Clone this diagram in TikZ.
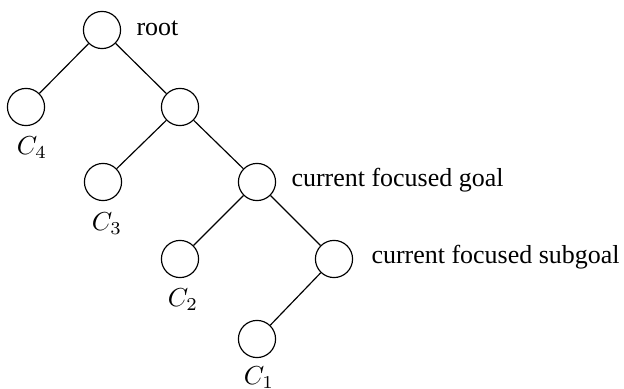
\documentclass[tikz,border=0pt]{standalone}
\usepackage{fontspec}
\setmainfont{Liberation Serif}
\begin{document}
\begin{tikzpicture}[x=0.385pt,y=-0.385pt,
  tnode/.style={circle,draw,line width=0.45pt,minimum size=14.3pt,inner sep=0pt},
  clabel/.style={inner sep=0pt,font=\fontsize{10}{12}\selectfont},
  tlabel/.style={inner sep=0pt,anchor=west,font=\fontsize{10}{12}\selectfont},
  edge/.style={line width=0.45pt}]
\useasboundingbox (0,0) rectangle (624,389);
\node[tnode] (root) at (102,30) {};
\node[tnode] (c4) at (26,107) {};
\node[tnode] (n1) at (180,107) {};
\node[tnode] (c3) at (103,182) {};
\node[tnode] (goal) at (257,182) {};
\node[tnode] (c2) at (180,259) {};
\node[tnode] (sub) at (334,259) {};
\node[tnode] (c1) at (257,339) {};
\draw[edge] (root) -- (c4);
\draw[edge] (root) -- (n1);
\draw[edge] (n1) -- (c3);
\draw[edge] (n1) -- (goal);
\draw[edge] (goal) -- (c2);
\draw[edge] (goal) -- (sub);
\draw[edge] (sub) -- (c1);
\node[clabel] (l4) at (32,148) {$C_4$};
\node[clabel] (l3) at (107,224) {$C_3$};
\node[clabel] (l2) at (183,300) {$C_2$};
\node[clabel] (l1) at (259,378) {$C_1$};
\node[tlabel] (troot) at (136,28) {root};
\node[tlabel] (tgoal) at (291,180) {current focused goal};
\node[tlabel] (tsub) at (371,257) {current focused subgoal};
\end{tikzpicture}
\end{document}
